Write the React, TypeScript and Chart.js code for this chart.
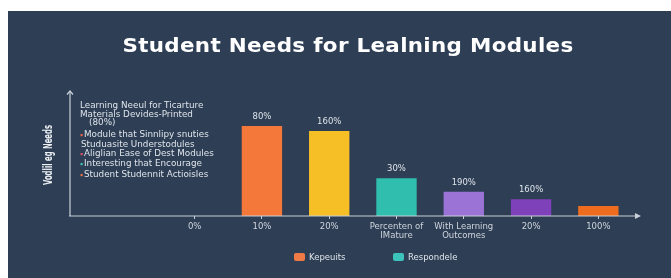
import React, { useEffect, useRef } from "react";
import { Chart, registerables } from "chart.js";

Chart.register(...registerables);

const categories: (string | string[])[] = ["0%", "10%", "20%", ["Percenten of", "IMature"], ["With Learning", "Outcomes"], "20%", "100%"];
const values: (number | null)[] = [null, 72.5, 68.5, 30.5, 19.5, 13.5, 8];
const barLabels: string[] = ["", "80%", "160%", "30%", "190%", "160%", ""];
const barColors: string[] = ["rgba(0,0,0,0)", "#f4783a", "#f6bf26", "#30bfae", "#9b73d6", "#7f41b9", "#ee6c1e"];
const noteLines: string[] = [
  "Learning Neeul for Ticarture",
  "Materials Devides-Printed",
  "(80%)",
  "Module that Sinnlipy snuties",
  "Studuasite Understodules",
  "Aliglian Ease of Dest Modules",
  "Interesting that Encourage",
  "Student Studennit Actioisles",
];
const noteBullets: (string | null)[] = [null, null, null, "#e8604a", null, "#d9506a", "#3cc0b0", "#e8704a"];
const legendNames: string[] = ["Kepeuits", "Respondele"];
const legendColors: string[] = ["#f07a45", "#3cc4bc"];
const titleText = "Student Needs for Lealning Modules";
const yTitle = "Vodlil eg Needs";

const BG = "#2d3e55";
const AXIS = "#c9cfd8";
const TXT = "#dfe4ea";
const SMALL = "'DejaVu Sans', sans-serif";

const decorPlugin = {
  id: "decor",
  afterDatasetsDraw(chart: any) {
    const ctx = chart.ctx as CanvasRenderingContext2D;
    const y0 = chart.scales.y.getPixelForValue(0);
    const axisX = 62;
    const axisTop = 80;
    const xEnd = chart.chartArea.right + 4;
    ctx.save();

    // title
    ctx.save();
    ctx.font = "bold 20px 'DejaVu Sans', sans-serif";
    (ctx as any).letterSpacing = "0.3px";
    ctx.fillStyle = "#ffffff";
    ctx.textAlign = "center";
    ctx.textBaseline = "middle";
    const tw = ctx.measureText(titleText).width;
    const sx = 451 / tw;
    ctx.translate(340, 36);
    ctx.scale(sx, 1);
    ctx.fillText(titleText, 0, 0);
    ctx.restore();

    ctx.strokeStyle = AXIS;
    ctx.fillStyle = AXIS;
    ctx.lineWidth = 1.2;
    // y axis
    ctx.beginPath();
    ctx.moveTo(axisX, y0);
    ctx.lineTo(axisX, axisTop);
    ctx.stroke();
    ctx.beginPath();
    ctx.moveTo(axisX - 3, axisTop + 3.5);
    ctx.lineTo(axisX, axisTop);
    ctx.lineTo(axisX + 3, axisTop + 3.5);
    ctx.stroke();
    // x axis
    ctx.beginPath();
    ctx.moveTo(axisX - 1, y0);
    ctx.lineTo(xEnd, y0);
    ctx.stroke();
    ctx.beginPath();
    ctx.moveTo(xEnd + 5, y0);
    ctx.lineTo(xEnd - 1, y0 - 3);
    ctx.lineTo(xEnd - 1, y0 + 3);
    ctx.closePath();
    ctx.fill();

    // bar value labels
    ctx.font = "8.5px " + SMALL;
    ctx.fillStyle = TXT;
    ctx.textAlign = "center";
    ctx.textBaseline = "middle";
    const meta = chart.getDatasetMeta(0);
    meta.data.forEach((bar: any, i: number) => {
      if (!barLabels[i] || values[i] == null) return;
      ctx.fillText(barLabels[i], bar.x, bar.y - 9);
    });

    // note block
    const noteY = [95, 104, 112, 124, 134, 143, 153, 164];
    ctx.textAlign = "left";
    ctx.font = "8.8px " + SMALL;
    noteLines.forEach((line, i) => {
      let x = 72;
      if (i === 2) x = 81;
      if (noteBullets[i]) {
        ctx.fillStyle = noteBullets[i] as string;
        ctx.fillRect(72.5, noteY[i] - 1, 2.2, 2.2);
        x = 76;
      } else if (i === 4) {
        x = 73;
      }
      ctx.fillStyle = TXT;
      ctx.fillText(line, x, noteY[i]);
    });

    // y title
    ctx.save();
    ctx.translate(41, 144);
    ctx.rotate(-Math.PI / 2);
    ctx.font = "bold 11.5px 'DejaVu Sans Condensed', 'DejaVu Sans', sans-serif";
    const yw = ctx.measureText(yTitle).width;
    ctx.scale(60 / yw, 1);
    ctx.fillStyle = "#eef1f4";
    ctx.textAlign = "center";
    ctx.textBaseline = "middle";
    ctx.fillText(yTitle, 0, 0);
    ctx.restore();

    // legend
    const lx = [286, 385];
    ctx.font = "8.5px " + SMALL;
    ctx.textBaseline = "middle";
    legendNames.forEach((name, i) => {
      ctx.fillStyle = legendColors[i];
      ctx.beginPath();
      (ctx as any).roundRect(lx[i], 242, 11, 8, 2);
      ctx.fill();
      ctx.fillStyle = TXT;
      ctx.textAlign = "left";
      ctx.fillText(name, lx[i] + 15, 246.5);
    });
    ctx.restore();
  },
};

export default function App() {
  const ref = useRef<HTMLCanvasElement | null>(null);
  useEffect(() => {
    if (!ref.current) return;
    const chart = new Chart(ref.current, {
      type: "bar",
      data: {
        labels: categories,
        datasets: [
          {
            label: "Needs",
            data: values,
            backgroundColor: barColors,
            borderWidth: 0,
            barPercentage: 0.6,
            categoryPercentage: 1,
          },
        ],
      },
      options: {
        responsive: false,
        animation: false,
        layout: { padding: { left: 153, right: 39, top: 81, bottom: 0 } },
        plugins: {
          legend: { display: false },
          tooltip: { enabled: false },
          title: { display: false },
        },
        scales: {
          x: {
            grid: { display: true, drawOnChartArea: false, offset: false, tickLength: 3, color: AXIS, tickWidth: 1 },
            border: { display: false },
            ticks: { color: "#cfd5dd", font: { family: SMALL, size: 8.5, lineHeight: 1.05 }, padding: 3, maxRotation: 0, autoSkip: false },
            afterFit: (scale: any) => {
              scale.height = 62;
            },
          },
          y: {
            display: false,
            min: 0,
            max: 100,
          },
        },
      },
      plugins: [decorPlugin],
    });
    return () => chart.destroy();
  }, []);
  return (
    <div style={{ position: "absolute", left: 8, top: 11, width: 663, height: 267, background: BG }}>
      <canvas ref={ref} width={663} height={267} style={{ display: "block" }} />
    </div>
  );
}
